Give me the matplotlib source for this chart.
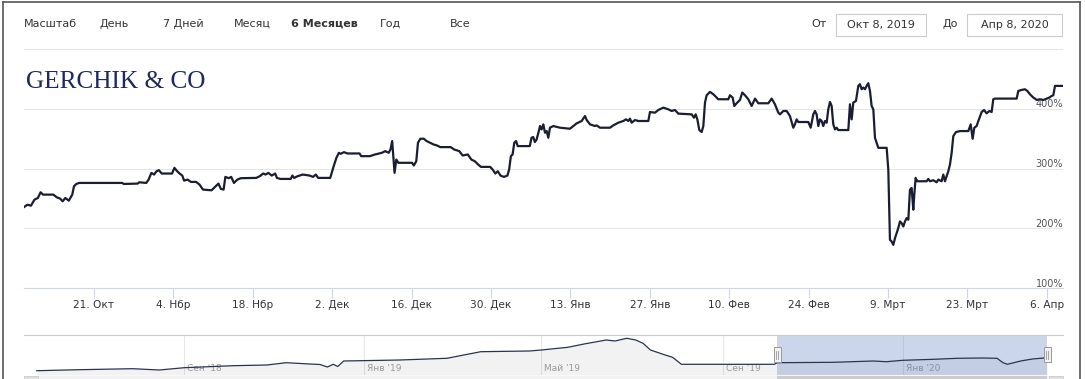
import matplotlib
matplotlib.use("Agg")
import matplotlib.pyplot as plt
import matplotlib.dates as mdates
import matplotlib.transforms as mtransforms
from matplotlib.patches import Rectangle
from matplotlib.lines import Line2D
import pandas as pd

# ---------------- data ----------------
main_start = "2019-10-08"
main_day = [
    0.68, 1.28, 1.89, 2.50, 3.10, 3.59, 4.01, 5.83, 6.44, 7.04,
    7.47, 7.95, 8.56, 9.17, 9.47, 9.89, 10.38, 17.96, 18.26, 20.69,
    20.99, 22.21, 22.63, 23.12, 23.60, 24.03, 24.45, 24.94, 26.76, 27.18,
    27.66, 28.09, 28.57, 28.88, 29.48, 30.09, 31.00, 31.61, 32.21, 33.73,
    34.34, 34.94, 35.37, 35.85, 36.16, 36.76, 37.19, 37.67, 38.28, 38.89,
    41.61, 42.22, 42.83, 43.25, 43.74, 44.34, 44.95, 45.25, 45.86, 47.68,
    47.98, 48.29, 48.89, 49.80, 51.02, 51.62, 52.11, 52.53, 54.65, 55.26,
    55.74, 56.17, 56.47, 57.08, 57.69, 59.81, 60.11, 61.63, 62.54, 63.75,
    64.36, 64.96, 65.27, 65.57, 65.75, 65.99, 66.30, 66.66, 69.09, 69.39,
    69.82, 70.12, 70.54, 71.15, 71.64, 72.24, 72.85, 73.45, 74.06, 75.88,
    76.49, 77.40, 78.00, 78.91, 79.52, 80.13, 80.73, 81.22, 82.85, 83.28,
    83.76, 84.19, 84.67, 85.28, 85.89, 86.19, 86.50, 86.80, 87.10, 87.41,
    87.71, 89.83, 90.14, 90.44, 90.74, 91.04, 91.53,
    91.63, 91.92, 92.22, 92.51, 92.81, 93.10, 93.39, 93.98, 95.16, 96.92,
    97.51, 98.09, 98.98, 99.56, 99.86, 100.45, 101.33, 101.62, 102.21, 103.97,
    104.56, 105.44, 106.32, 106.79, 107.20, 107.50, 107.79, 108.38, 108.97, 110.73,
    111.02, 111.91, 112.49, 113.37, 114.26, 114.84, 115.43, 116.02, 118.37, 118.78,
    119.08, 119.37, 119.72, 120.13, 120.43, 120.72, 121.02, 121.60, 122.19, 123.07,
    124.84, 125.13, 125.60, 125.89, 126.30, 126.89, 127.30, 127.77, 128.36, 128.95,
    129.54, 130.12, 131.89, 132.47, 133.06, 133.65,
    133.94, 134.53, 135.12, 135.70, 136.29, 136.58, 136.88, 137.17, 138.94, 139.35,
    139.82, 140.11, 140.40, 140.70, 140.99, 141.29, 141.58, 141.87, 142.17, 142.46,
    142.76, 143.05, 143.34, 143.64, 143.93, 144.22, 145.99, 146.28, 146.58, 146.87,
    147.34, 147.75, 148.04, 148.34, 148.63, 148.93, 149.22, 149.51, 149.81, 150.10,
    150.40, 150.69, 150.98, 151.28, 152.75, 153.04, 153.33, 153.63, 153.92, 154.22,
    154.51, 154.80, 155.10, 155.39, 155.69, 155.98, 156.27, 156.57, 156.86, 157.15,
    157.45, 157.62, 157.86, 158.15, 159.80, 160.09, 160.39, 160.97, 161.56, 161.86,
    162.44, 162.74, 163.03, 163.33, 163.62, 163.91, 164.21, 164.50, 164.97, 165.68,
    167.15, 167.56, 167.91, 168.20, 168.61, 168.91, 169.50, 169.91, 170.38, 170.85,
    171.26, 171.55, 171.85, 175.67, 175.96, 176.55, 177.14, 177.55, 178.02, 178.61,
    178.90, 179.19, 179.78, 180.37, 180.96, 181.43, 181.66, 182.13, 182.43, 183.78,
]
main_pct = [
    235.7, 239.6, 237.9, 248.0, 250.8, 260.3, 256.4, 256.4, 251.9, 249.7,
    245.2, 250.8, 246.3, 256.4, 270.3, 274.2, 275.9, 275.9, 274.2, 274.8,
    277.0, 275.9, 281.5, 292.7, 289.9, 295.5, 297.2, 291.6, 291.6, 301.1,
    295.5, 291.6, 288.2, 279.8, 281.5, 277.6, 277.6, 273.1, 264.8, 263.6,
    269.2, 274.8, 265.9, 264.8, 286.0, 283.8, 286.0, 275.9, 281.5, 283.8,
    284.3, 287.1, 291.6, 289.9, 292.7, 288.2, 291.6, 284.3, 282.6, 282.6,
    288.2, 284.3, 287.1, 289.9, 288.2, 286.0, 289.9, 284.3, 284.3, 303.9,
    317.8, 326.2, 324.5, 327.3, 325.1, 325.1, 320.6, 320.6, 323.4, 326.2,
    329.0, 326.2, 331.8, 345.8, 323.4, 292.7, 315.0, 309.5, 309.5, 305.0,
    312.2, 343.0, 349.7, 349.7, 345.8, 343.0, 340.2, 338.5, 335.7, 335.7,
    331.8, 329.0, 321.7, 323.4, 315.0, 312.2, 306.7, 302.7, 302.7, 298.3,
    291.6, 295.5, 288.2, 286.0, 288.2, 298.3, 320.6, 323.4, 343.0, 345.8,
    337.4, 337.4, 351.4, 352.5, 344.1, 348.6, 366.4,
    370.9, 365.3, 373.7, 359.7, 362.5, 351.3, 368.1, 370.9, 368.1, 366.4,
    370.9, 375.3, 379.3, 387.6, 380.9, 373.7, 370.9, 372.0, 368.1, 368.1,
    372.0, 376.5, 379.3, 382.1, 379.3, 383.2, 376.5, 380.9, 379.3, 379.3,
    394.3, 393.2, 397.7, 401.6, 398.8, 396.0, 397.7, 391.6, 390.4, 384.8,
    390.4, 382.1, 364.2, 360.8, 370.9, 410.0, 422.3, 427.9, 423.9, 415.6,
    415.6, 422.3, 418.4, 404.4, 408.9, 414.5, 426.8, 422.3, 415.6, 404.4,
    416.7, 408.9, 408.9, 416.7, 407.2, 393.2,
    390.4, 396.0, 396.0, 387.6, 368.1, 373.7, 382.0, 377.6, 377.6, 368.1,
    390.4, 396.0, 390.4, 370.9, 382.0, 379.2, 370.9, 379.2, 376.4, 398.8,
    411.1, 404.4, 373.7, 365.3, 368.1, 364.2, 364.2, 407.2, 382.0, 410.0,
    412.8, 437.9, 440.7, 432.3, 435.1, 432.3, 437.9, 442.4, 429.5, 404.4,
    398.8, 351.3, 342.9, 334.5, 334.5, 298.2, 180.9, 178.1, 172.5, 183.7,
    192.1, 200.5, 211.6, 208.8, 203.2, 211.6, 217.2, 214.4, 264.7, 267.5,
    231.2, 256.3, 284.3, 278.7, 278.7, 282.6, 278.7, 280.4, 277.0, 281.5,
    278.7, 289.9, 278.7, 287.1, 295.4, 306.6, 326.2, 354.1, 360.8, 362.5,
    362.5, 373.7, 349.6, 368.1, 370.9, 379.2, 394.3, 397.7, 392.1, 396.0,
    394.3, 415.6, 416.7, 416.7, 429.5, 431.2, 432.3, 429.5, 423.9, 418.4,
    416.7, 414.4, 415.6, 414.4, 416.7, 418.4, 420.1, 422.3, 437.9, 437.9,
]

nav_dates = [
    "2018-05-24", "2018-06-22", "2018-07-28", "2018-08-15", "2018-09-01",
    "2018-10-04", "2018-10-27", "2018-11-09", "2018-11-25", "2018-12-02",
    "2018-12-07", "2018-12-11", "2018-12-14", "2018-12-18", "2019-01-25",
    "2019-02-26", "2019-03-21", "2019-04-23", "2019-05-01", "2019-05-19",
    "2019-05-30", "2019-06-14", "2019-06-20", "2019-06-28", "2019-07-04",
    "2019-07-09", "2019-07-14", "2019-07-24", "2019-07-29", "2019-08-04",
    "2019-10-06", "2019-10-08", "2019-11-15", "2019-12-12", "2019-12-21",
    "2020-01-01", "2020-01-22", "2020-02-07", "2020-02-24", "2020-03-05",
    "2020-03-09", "2020-03-12", "2020-03-21", "2020-03-29", "2020-04-08",
]
nav_level = [
    4.3, 5.3, 6.3, 5.0, 7.3,
    9.3, 10.0, 12.3, 11.0, 10.5,
    8.0, 10.7, 8.5, 14.0, 15.0,
    16.7, 23.3, 24.0, 25.0, 27.7,
    31.0, 35.0, 34.0, 36.7, 35.0,
    31.7, 25.0, 20.0, 17.7, 10.7,
    10.7, 12.3, 12.7, 14.0, 13.3,
    14.7, 15.7, 16.7, 17.0, 16.7,
    12.3, 10.7, 14.0, 16.0, 17.3,
]

x_tick_first = "2019-10-21"
x_tick_labels = ["21. Окт", "4. Нбр", "18. Нбр", "2. Дек", "16. Дек", "30. Дек",
                 "13. Янв", "27. Янв", "10. Фев", "24. Фев", "9. Мрт", "23. Мрт", "6. Апр"]
y_ticks = [100, 200, 300, 400]
y_top = 500
nav_tick_dates = ["2018-09-01", "2019-01-01", "2019-05-01", "2019-09-01", "2020-01-01"]
nav_tick_labels = ["Сен '18", "Янв '19", "Май '19", "Сен '19", "Янв '20"]
zoom_label = "Масштаб"
range_buttons = ["День", "7 Дней", "Месяц", "6 Месяцев", "Год", "Все"]
range_selected = "6 Месяцев"
from_label, to_label = "От", "До"
date_from, date_to = "Окт 8, 2019", "Апр 8, 2020"
logo_text = "GERCHIK & CO"

# ---------------- figure ----------------
W, H = 1085, 379
fig = plt.figure(figsize=(W / 100, H / 100), dpi=100)
fig.patch.set_facecolor("white")
plt.rcParams["font.family"] = ["DejaVu Sans"]


def fx(x):
    return x / W


def fy(y):
    return 1 - y / H


def rect_px(x0, y0, x1, y1):
    return [fx(x0), fy(y1), fx(x1) - fx(x0), fy(y0) - fy(y1)]


PLOT_L, PLOT_R = 24, 1063
ax = fig.add_axes(rect_px(PLOT_L, 48.7, PLOT_R, 288.3))
ax.set_facecolor("none")
for s in ax.spines.values():
    s.set_visible(False)

t0 = pd.Timestamp(main_start)
main_dates = t0 + pd.to_timedelta(main_day, unit="D")
ax.set_xlim(t0 + pd.Timedelta(days=0.66), t0 + pd.Timedelta(days=183.84))
ax.set_ylim(100, y_top)

for v in y_ticks[1:] + [y_top]:
    ax.axhline(v, color="#e6e6e6", lw=0.75, zorder=1)
ax.axhline(100, color="#ccd6eb", lw=0.8, zorder=1, clip_on=False)

ax.plot(main_dates, main_pct, color="#1b1e33", lw=1.6, solid_joinstyle="round", zorder=4)

tick_dates = pd.date_range(x_tick_first, periods=len(x_tick_labels), freq="14D")
ax.set_xticks(tick_dates)
ax.set_xticklabels(x_tick_labels)
ax.tick_params(axis="x", length=7.2, width=0.8, color="#ccd6eb", labelsize=7.6,
               labelcolor="#333333", pad=1.0)
ax.set_yticks([])

ytr = ax.get_yaxis_transform() + mtransforms.ScaledTranslation(0, 1.5 / 100, fig.dpi_scale_trans)
for v in y_ticks:
    ax.text(1.0, v, f"{v}%", transform=ytr, ha="right", va="baseline",
            fontsize=7.0, color="#555555", zorder=2)

# ---------------- navigator ----------------
NAV_T, NAV_B = 335, 375
nav = fig.add_axes(rect_px(PLOT_L, NAV_T, PLOT_R, NAV_B))
nav.set_facecolor("none")
for s in nav.spines.values():
    s.set_visible(False)
nav.set_xticks([])
nav.set_yticks([])
n0 = pd.Timestamp("2018-09-01")
nav.set_xlim(n0 + pd.Timedelta(days=-108.7), n0 + pd.Timedelta(days=595.7))
nav.set_ylim(0, 40)
nd = pd.to_datetime(nav_dates)
nav.fill_between(nd, nav_level, 0, color="#000000", alpha=0.05, lw=0, zorder=1)
nav.plot(nd, nav_level, color="#2a3352", lw=0.9, zorder=5)
for d, lab in zip(pd.to_datetime(nav_tick_dates), nav_tick_labels):
    nav.axvline(d, color="#e6e6e6", lw=0.75, zorder=0)
    nav.text(d, 3.6, lab, transform=nav.transData + mtransforms.ScaledTranslation(3 / 100, 0, fig.dpi_scale_trans),
             ha="left", va="baseline", fontsize=6.5, color="#999999", zorder=3)
nav.axhline(40, color="#cccccc", lw=0.8, zorder=6, clip_on=False)

sel0 = t0
sel1 = t0 + pd.Timedelta(days=183)
nav.axvspan(sel0, sel1, color="#6685c2", alpha=0.33, lw=0, zorder=4)


def nav_px(d):
    xd = nav.transData.transform((mdates.date2num(d), 0))[0]
    return xd


for d in (sel0, sel1):
    xp = nav_px(d)
    hx0, hx1 = xp - 3.5, xp + 3.5
    fig.add_artist(Rectangle((fx(hx0), fy(362)), fx(hx1) - fx(hx0), fy(347) - fy(362),
                             transform=fig.transFigure, facecolor="#f2f2f2",
                             edgecolor="#999999", lw=0.7, zorder=10))
    for dx in (-1.2, 1.2):
        fig.add_artist(Line2D([fx(xp + dx), fx(xp + dx)], [fy(350.5), fy(358.5)],
                              color="#999999", lw=0.6, zorder=11))

# scrollbar
sx0 = nav_px(sel0)
sx1 = nav_px(sel1)
fig.add_artist(Rectangle((fx(PLOT_L), 0), fx(PLOT_R) - fx(PLOT_L), fy(376),
                         transform=fig.transFigure, facecolor="#f2f2f2", lw=0, zorder=2))
fig.add_artist(Rectangle((fx(sx0), 0), fx(sx1) - fx(sx0), fy(376),
                         transform=fig.transFigure, facecolor="#cccccc", lw=0, zorder=3))
for bx in (PLOT_L, PLOT_R - 14):
    fig.add_artist(Rectangle((fx(bx), 0), fx(14) - fx(0), fy(376),
                             transform=fig.transFigure, facecolor="#e0e0e0",
                             edgecolor="#cccccc", lw=0.6, zorder=3))

# ---------------- header ----------------
fig.text(fx(24), fy(24), zoom_label, ha="left", va="center", fontsize=8, color="#333333")
btn_x = [100, 163, 234, 291, 380, 450]
for lab, x in zip(range_buttons, btn_x):
    fig.text(fx(x), fy(24), lab, ha="left", va="center", fontsize=8, color="#333333",
             fontweight="bold" if lab == range_selected else "normal")

fig.text(fx(819), fy(24), from_label, ha="center", va="center", fontsize=8, color="#333333")
fig.text(fx(950), fy(24), to_label, ha="center", va="center", fontsize=8, color="#333333")
for (bx0, bx1), lab in zip([(836, 926), (967, 1062)], [date_from, date_to]):
    fig.add_artist(Rectangle((fx(bx0), fy(36)), fx(bx1) - fx(bx0), fy(14) - fy(36),
                             transform=fig.transFigure, facecolor="white",
                             edgecolor="#cccccc", lw=0.8))
    fig.text(fx((bx0 + bx1) / 2), fy(25), lab, ha="center", va="center",
             fontsize=8, color="#333333")

fig.text(fx(26), fy(88), logo_text, ha="left", va="baseline", fontsize=18.2,
         family=["Liberation Serif", "DejaVu Serif"], color="#1d2a5c")

# ---------------- screenshot frame ----------------
frame_c = "#555555"
fig.add_artist(Line2D([fx(3), fx(3)], [0, fy(2)], color=frame_c, lw=1.2))
fig.add_artist(Line2D([fx(1080), fx(1080)], [0, fy(2)], color=frame_c, lw=1.2))
fig.add_artist(Line2D([fx(3), fx(1080)], [fy(2), fy(2)], color=frame_c, lw=1.2))

fig.savefig("out.png", dpi=100, facecolor="white")
